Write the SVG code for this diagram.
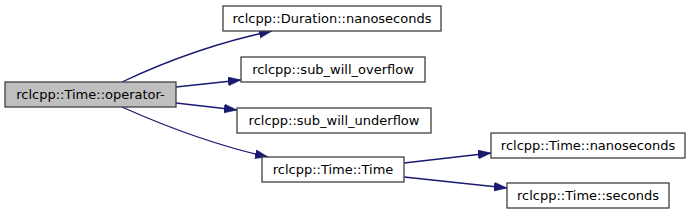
<svg xmlns="http://www.w3.org/2000/svg" width="691" height="215" viewBox="0 0 691 215">
<style>
.node rect{fill:#ffffff;stroke:#404040;stroke-width:1.3}
.node.main rect{fill:#bfbfbf}
.node text{font-family:"DejaVu Sans",sans-serif;font-size:13px;fill:#000000;text-anchor:middle}
.edge{fill:none;stroke:#191970;stroke-width:1.3;marker-end:url(#ah)}
</style>
<defs>
<marker id="ah" markerUnits="userSpaceOnUse" markerWidth="14" markerHeight="10" refX="13" refY="4.5" orient="auto">
<path d="M0,0 L13,4.5 L0,9 z" fill="#191970" stroke="#191970" stroke-width="0.5"/>
</marker>
</defs>
<rect width="691" height="215" fill="#ffffff"/>
<g id="edges">
<path class="edge" d="M122,82 C160,64 210,44 272,31"/>
<path class="edge" d="M176,87 L241,80"/>
<path class="edge" d="M176,103 L237,110"/>
<path class="edge" d="M122,107 C160,124 210,144 268,157"/>
<path class="edge" d="M404,163 L491,153"/>
<path class="edge" d="M404,177 L507,188"/>
</g>
<g id="n_main" class="node main"><rect x="5" y="82" width="171" height="25"/><text x="90.5" y="99">rclcpp::Time::operator-</text></g>
<g id="n_duration_ns" class="node"><rect x="223" y="6" width="218" height="25"/><text x="332" y="23">rclcpp::Duration::nanoseconds</text></g>
<g id="n_overflow" class="node"><rect x="241" y="57" width="184" height="25"/><text x="333" y="74">rclcpp::sub_will_overflow</text></g>
<g id="n_underflow" class="node"><rect x="237" y="108" width="194" height="25"/><text x="334" y="125">rclcpp::sub_will_underflow</text></g>
<g id="n_time" class="node"><rect x="262" y="157" width="142" height="25"/><text x="333" y="174">rclcpp::Time::Time</text></g>
<g id="n_time_ns" class="node"><rect x="491" y="133" width="194" height="25"/><text x="588" y="150">rclcpp::Time::nanoseconds</text></g>
<g id="n_time_s" class="node"><rect x="507" y="183" width="162" height="25"/><text x="588" y="200">rclcpp::Time::seconds</text></g>
</svg>
